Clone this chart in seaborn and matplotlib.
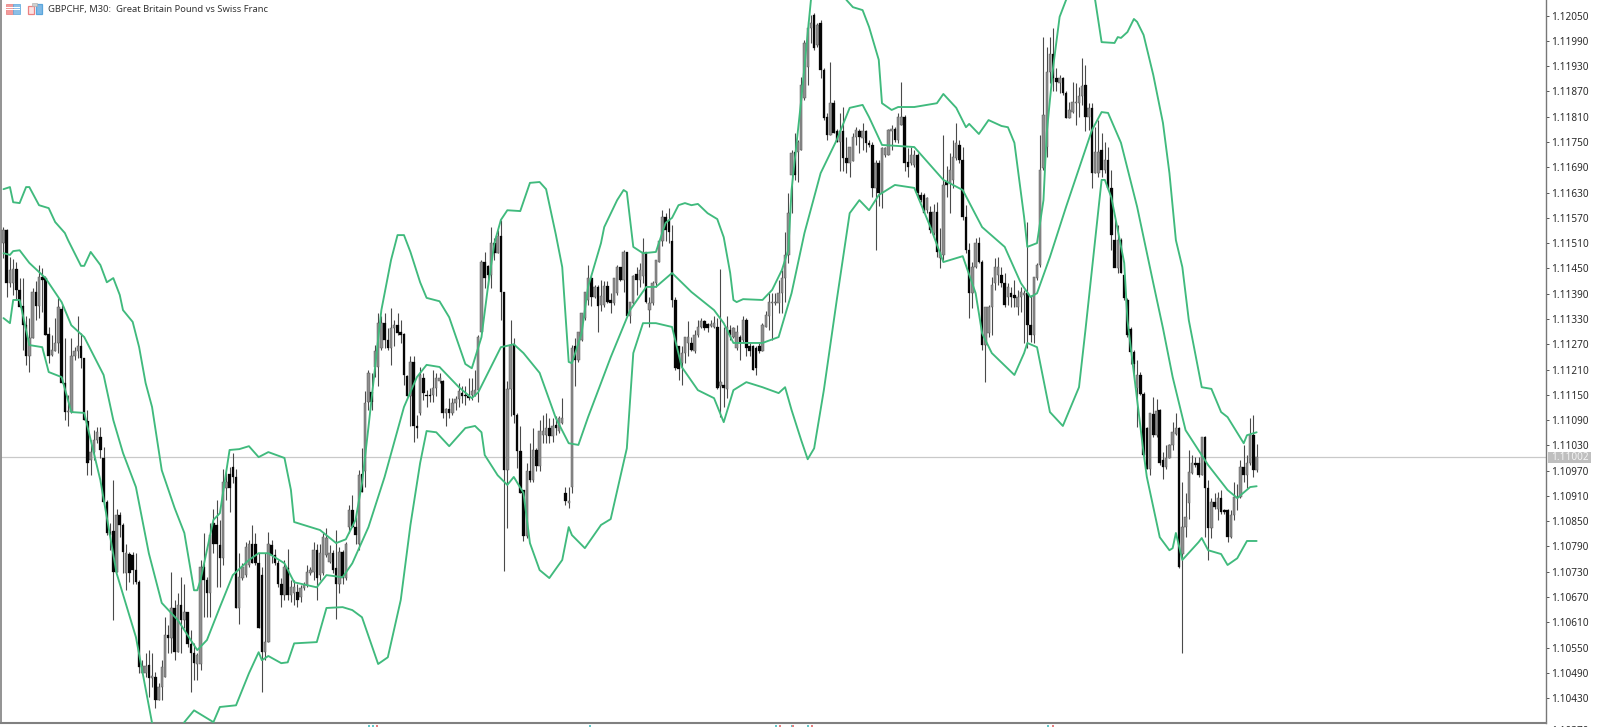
import numpy as np
import pandas as pd
import matplotlib
matplotlib.use("Agg")
import matplotlib.pyplot as plt
from matplotlib.patches import Rectangle
from matplotlib.ticker import FuncFormatter
import seaborn as sns

# Prices are given as points above 1.00000 (11090 -> 1.11090)
opens_a = [11510,11540,11415,11415,11448,11399,11361,11316,11242,11284,11393,11361,11429,11427,11294,11245,11255,11274,11353,11177,11108,11110,11242,11253,11266,11237]
highs_a = [11548,11543,11478,11472,11466,11427,11427,11336,11332,11403,11419,11458,11450,11431,11312,11292,11332,11379,11363,11284,11150,11284,11264,11336,11296,11237]
lows_a = [11474,11383,11407,11387,11375,11359,11257,11221,11205,11284,11328,11332,11347,11292,11225,11241,11253,11250,11177,11090,11075,11106,11232,11237,11213,11090]
closes_a = [11540,11415,11446,11448,11399,11359,11316,11242,11284,11393,11361,11429,11423,11292,11242,11257,11274,11358,11177,11110,11110,11242,11253,11266,11237,11090]

opens_b = [11088,10995,11015,11043,11050,10999,10896,10825,10827,10730,10865,10841,10728,10771,10770,10734,10706,10489,10489,10509,10477,10481,10426,10457,10481,10580,10572,10643,10539,10651,10615,10635,10558,10536,10511,10511,10742,10710,10679,10845,10841,10793,10762,10928,10963,10979,10956,10643,10714,10722,10746,10797,10797,10750,10722,10540,10564,10793,10770,10750,10702,10675,10738,10675,10679,10683,10671,10691,10698,10726,10730,10781,10722,10726,10770,10754,10774,10738,10702,10778,10714,10837,10876,10837,10797,10963,10968]
highs_b = [11114,11043,11066,11074,11074,11027,10900,10845,10948,10880,10872,10845,10797,10778,10778,10774,10710,10520,10536,10544,10536,10493,10465,10520,10623,10604,10730,10663,10679,10718,10702,10635,10592,10560,10536,10758,10821,10718,10845,10880,10900,10853,10975,10967,10979,11011,10975,10774,10750,10801,10805,10841,10821,10774,10742,10774,10825,10805,10785,10758,10714,10758,10785,10710,10710,10702,10698,10706,10746,10742,10801,10797,10797,10821,10833,10793,10782,10829,10789,10782,10801,10888,10912,10861,10971,11023,11158]
lows_b = [10960,10960,10995,11035,10999,10900,10817,10781,10615,10730,10813,10726,10687,10706,10702,10702,10489,10489,10481,10433,10457,10406,10426,10426,10481,10536,10536,10520,10539,10536,10596,10552,10445,10473,10473,10497,10623,10623,10623,10774,10694,10694,10746,10900,10872,10940,10643,10607,10710,10718,10742,10750,10746,10596,10445,10520,10564,10750,10746,10694,10647,10663,10663,10659,10651,10647,10659,10687,10694,10722,10710,10663,10710,10722,10766,10750,10726,10619,10679,10702,10710,10821,10837,10797,10782,10920,10932]
closes_b = [10987,11015,11043,11062,11019,10896,10821,10817,10730,10865,10841,10778,10774,10728,10734,10706,10505,10506,10506,10477,10483,10426,10457,10503,10580,10572,10643,10539,10651,10615,10635,10558,10536,10513,10532,10742,10710,10679,10817,10797,10797,10762,10944,10944,10928,10956,10643,10718,10742,10789,10797,10750,10750,10596,10540,10564,10797,10770,10750,10702,10675,10742,10675,10694,10694,10663,10691,10698,10730,10734,10781,10714,10774,10813,10809,10774,10734,10702,10778,10714,10797,10876,10837,10817,10959,10920,11130]

opens_c = [11132,11156,11217,11217,11261,11320,11281,11261,11308,11316,11298,11295,11194,11146,11229,11075,11106,11190,11150,11150,11150,11166,11182,11182,11106,11117,11106,11130,11140,11154,11150,11146,11150,11150,11162,11300,11466,11455,11435,11510,11486,11526,11395,10972,11164,11269,11103,11016,10925,10814,10968,10948,11019,10980,11055,11055,11071,11051,11079,11063,11083,10917,10893,10932,11265,11233,11281,11332,11375,11427,11383,11407]
highs_c = [11209,11201,11269,11344,11336,11344,11308,11356,11328,11344,11328,11296,11198,11241,11241,11103,11217,11201,11162,11166,11209,11201,11201,11186,11118,11142,11142,11146,11178,11170,11170,11190,11190,11209,11292,11470,11490,11458,11549,11522,11542,11565,11395,11182,11328,11284,11107,11075,10925,10988,11035,11071,11023,11091,11103,11106,11095,11095,11099,11099,11142,10932,10932,11269,11284,11300,11344,11395,11458,11435,11411,11411]
lows_c = [11114,11114,11193,11170,11257,11261,11257,11221,11265,11292,11273,11174,11146,11075,11039,11047,11103,11138,11122,11134,11134,11146,11178,11095,11075,11095,11103,11114,11122,11130,11126,11138,11138,11146,11134,11300,11403,11411,11403,11470,11486,11328,10731,10834,11099,11083,10976,10917,10802,10810,10944,10944,10968,10968,11035,11035,11035,11039,11055,11059,11081,10889,10881,10917,11170,11229,11277,11328,11364,11360,11379,11300]
closes_c = [11201,11134,11253,11320,11320,11281,11261,11308,11315,11296,11292,11196,11146,11229,11075,11071,11197,11154,11146,11146,11166,11190,11190,11106,11117,11106,11130,11140,11158,11146,11146,11142,11158,11162,11287,11466,11427,11435,11510,11486,11526,11395,10972,11164,11269,11103,11016,10917,10814,10968,10948,11019,10980,11063,11063,11071,11051,11075,11071,11095,11095,10897,10897,11261,11233,11300,11344,11395,11427,11383,11407,11360]

opens_d = [11363,11363,11408,11374,11367,11391,11453,11423,11488,11336,11367,11437,11423,11431,11488,11352,11367,11415,11466,11514,11573,11565,11514,11375,11265,11225,11249,11272,11272,11253,11292,11312,11324,11318,11314,11312,11312,11170,11174,11163,11304,11288,11261,11288,11280,11328,11265,11265,11261,11265,11253,11312,11336,11367,11367,11367,11391,11427,11482]
highs_d = [11423,11419,11419,11391,11427,11458,11453,11494,11490,11371,11435,11454,11462,11522,11490,11383,11419,11470,11518,11589,11581,11593,11553,11383,11265,11265,11288,11324,11288,11304,11328,11332,11328,11320,11328,11336,11332,11448,11312,11336,11316,11312,11316,11292,11336,11332,11272,11268,11265,11272,11320,11348,11391,11391,11391,11423,11446,11537,11628]
lows_d = [11348,11359,11367,11344,11363,11387,11419,11395,11336,11320,11363,11387,11407,11415,11367,11312,11363,11407,11466,11502,11514,11510,11359,11209,11185,11174,11225,11241,11253,11249,11288,11308,11304,11300,11312,11308,11163,11098,11122,11142,11280,11284,11257,11233,11272,11241,11241,11209,11197,11249,11253,11312,11304,11280,11363,11344,11344,11371,11462]
closes_d = [11385,11408,11371,11367,11427,11453,11423,11488,11336,11371,11433,11423,11445,11488,11371,11367,11415,11470,11514,11573,11541,11537,11375,11213,11211,11249,11288,11288,11257,11292,11312,11324,11308,11308,11318,11320,11166,11181,11166,11312,11292,11308,11298,11272,11328,11261,11255,11209,11213,11253,11316,11340,11371,11371,11371,11391,11427,11482,11581]

opens_e = [11672,11727,11727,11731,11854,11929,12020,12051,11980,12032,11921,11810,11767,11842,11775,11751,11775,11711,11699,11704,11763,11776,11759,11775,11747,11743,11640,11700,11628,11719,11719,11775,11782,11755,11790,11810,11703,11699,11695,11719,11624,11624,11589,11585,11534,11585,11474,11482,11656,11652,11660,11711,11743,11707,11573,11494,11391,11454,11510,11466,11268,11296,11359,11415,11434,11434,11415,11383,11391,11387,11359,11383,11387,11391,11316,11292,11426]
highs_e = [11731,11771,11755,11905,11992,12036,12051,12055,12032,12040,11925,11818,11941,11850,11782,11818,11834,11763,11739,11771,11786,11782,11794,11778,11755,11751,11707,11707,11739,11739,11782,11790,11786,11818,11893,11814,11735,11739,11731,11723,11632,11628,11620,11597,11604,11608,11545,11767,11692,11723,11755,11794,11755,11739,11601,11510,11466,11521,11525,11470,11359,11363,11430,11474,11478,11454,11438,11415,11407,11423,11399,11407,11399,11561,11387,11430,11462]
lows_e = [11581,11660,11656,11731,11850,11885,11984,11968,11976,11901,11802,11755,11767,11771,11751,11680,11680,11676,11668,11704,11743,11723,11731,11727,11739,11620,11494,11597,11593,11715,11719,11731,11751,11747,11790,11680,11668,11695,11691,11616,11608,11581,11581,11534,11530,11478,11450,11470,11620,11581,11640,11707,11699,11565,11486,11332,11355,11450,11462,11256,11181,11288,11292,11399,11411,11407,11359,11363,11359,11359,11340,11347,11272,11260,11276,11272,11422]
closes_e = [11723,11672,11751,11885,11984,12020,12032,11972,12028,11921,11806,11767,11842,11771,11751,11775,11711,11699,11739,11763,11779,11763,11775,11747,11743,11640,11700,11628,11735,11735,11779,11782,11755,11810,11810,11699,11691,11719,11719,11628,11612,11581,11616,11541,11585,11490,11490,11648,11648,11684,11715,11747,11707,11573,11494,11391,11454,11510,11466,11268,11359,11359,11411,11454,11454,11415,11363,11407,11383,11379,11383,11395,11392,11316,11292,11430,11458]

opens_f = [11458,11688,11739,11917,11960,11901,11891,11901,11866,11806,11822,11842,11842,11858,11885,11810,11830,11676,11676,11731,11684,11707,11640,11517,11450,11517,11434]
highs_f = [11767,12000,11976,12000,12020,11925,11909,11905,11870,11846,11893,11889,11881,11949,11933,11842,11842,11786,11802,11771,11751,11739,11684,11565,11553,11521,11438]
lows_f = [11454,11684,11715,11889,11870,11870,11866,11862,11806,11806,11818,11790,11810,11838,11775,11779,11640,11676,11668,11668,11676,11636,11494,11486,11438,11438,11375]
closes_f = [11684,11814,11917,11960,11901,11893,11901,11866,11806,11826,11846,11846,11858,11883,11810,11830,11676,11727,11727,11684,11707,11640,11529,11450,11517,11438,11379]

opens_g = [11375,11307,11252,11165,11196,11153,11070,10975,11104,11054,11113,10995,10979,10999,11030,11058,11072,10773,10837,10892,10965,10987,10987,10959,11050,10928,10833,10896,10880,10904,10876,10876,10813,10864,10908,10908,10979,10959,10987,11054,10971]
highs_g = [11380,11311,11256,11232,11204,11157,11074,11106,11145,11141,11117,11015,11030,11034,11086,11106,11074,10943,10916,11019,11007,11003,11003,11050,11052,10947,10904,10916,10920,10924,10880,10880,10876,10943,10939,10995,11030,11007,11094,11102,11034]
lows_g = [11287,11224,11196,11074,11149,11003,10975,10959,11050,11050,10983,10949,10975,10999,11019,11054,10738,10536,10813,10856,10963,10979,10955,10959,10813,10759,10809,10880,10852,10868,10868,10801,10809,10852,10876,10904,10943,10928,10983,10955,10967]
closes_g = [11291,11252,11224,11196,11153,11007,10975,11106,11054,11112,10987,10979,10999,11030,11062,11070,10742,10837,10860,10967,10987,10983,10959,11050,10928,10833,10896,10884,10904,10872,10872,10813,10864,10908,10904,10979,10959,10987,11054,10971,11002]

upper_bars = [0,2,3,5,7,8,11,14,16,19,20,24,25,27,30,32,34,36,37,40,42,44,46,49,53,56,59,60,61,65,67,70,73,76,79,82,87,89,90,98,103,106,109,111,113,117,120,122,124,126,129,131,135,138,143,145,148,150,152,154,156,160,163,166,168,171,173,175,176,179,181,185,186,190,192,193,195,198,202,205,207,209,211,213,215,218,221,223,225,226,227,229,235,238,241,243,244,247,249,250,256,261,263,266,268,271,272,275,277,282,289,291,295,298,299,302,305,309,311,313,316,317,320,322,323,325,327,329,333,338,340,344,345,346,348,350,351,353,356,359,361,363,365,367,371,374,377,379,384,385,388]
upper_vals = [11638,11643,11607,11605,11643,11643,11600,11593,11560,11534,11517,11456,11456,11489,11458,11417,11427,11387,11351,11323,11263,11178,11121,10971,10881,10822,10686,10686,10710,10853,10869,11019,11021,11028,11002,11014,11000,10924,10848,10829,10798,10807,10853,10940,11073,11351,11470,11529,11529,11489,11417,11380,11372,11334,11223,11213,11287,11406,11510,11565,11588,11586,11653,11655,11638,11531,11453,11228,11225,11296,11406,11510,11548,11612,11636,11631,11501,11486,11489,11558,11570,11600,11605,11600,11603,11581,11567,11524,11439,11375,11370,11377,11375,11399,11446,11494,11636,11850,12009,12087,12182,12087,12070,12063,12023,11945,11842,11826,11833,11833,11842,11864,11831,11785,11793,11769,11802,11788,11785,11748,11572,11501,11510,11612,11771,11928,12047,12087,12170,12087,11987,11985,11999,11997,12011,12042,12035,12004,11909,11795,11676,11517,11453,11327,11168,11164,11109,11097,11035,11054,11061]

middle_bars = [0,2,3,5,8,13,18,21,25,31,34,37,41,45,49,54,60,63,67,71,76,79,82,87,90,97,100,105,108,113,118,124,128,131,135,141,145,147,154,157,158,161,166,171,175,178,181,185,188,194,199,202,207,213,220,223,226,228,235,240,244,248,253,258,262,266,268,272,282,291,297,303,310,315,318,320,324,329,337,340,342,346,351,356,359,362,366,373,379,382,386,388]
middle_vals = [11486,11482,11491,11493,11463,11427,11370,11315,11287,11197,11090,11012,10931,10774,10656,10615,10544,10568,10646,10722,10758,10774,10774,10750,10705,10693,10722,10717,10750,10836,10955,11121,11192,11221,11216,11168,11142,11156,11263,11268,11270,11249,11202,11095,11035,11031,11097,11178,11239,11351,11406,11406,11439,11394,11351,11320,11273,11273,11273,11287,11391,11534,11676,11755,11831,11838,11809,11743,11738,11660,11636,11548,11501,11415,11382,11391,11477,11596,11778,11821,11819,11748,11596,11415,11308,11192,11066,10983,10924,10905,10931,10933]

lower_bars = [0,2,3,5,8,12,14,18,21,25,30,35,41,46,51,56,59,65,67,72,76,79,80,82,86,88,90,97,100,105,108,111,116,119,123,126,129,131,134,138,143,146,148,149,153,156,158,161,163,166,169,173,175,176,180,185,188,193,195,198,202,207,210,215,220,223,226,230,235,240,242,244,247,249,251,254,258,262,265,268,271,276,282,287,291,297,301,303,306,313,316,317,320,324,328,333,335,340,341,343,347,348,353,354,358,361,362,363,365,370,371,373,377,379,382,385,388]
lower_vals = [11332,11320,11375,11375,11268,11263,11204,11192,11109,11107,10947,10727,10575,10371,10260,10373,10401,10373,10409,10413,10489,10539,10520,10530,10513,10515,10560,10563,10644,10646,10639,10622,10511,10527,10663,10841,10988,11064,11061,11028,11071,11076,11061,11007,10959,10936,10955,10917,10798,10734,10715,10758,10836,10817,10786,10841,10855,11023,11249,11320,11320,11311,11216,11161,11142,11085,11161,11180,11168,11154,11168,11114,11042,10997,11023,11161,11375,11581,11612,11588,11624,11648,11641,11548,11465,11479,11391,11296,11249,11197,11249,11273,11263,11109,11076,11168,11304,11660,11660,11619,11463,11327,11012,10955,10812,10781,10786,10822,10758,10800,10810,10781,10772,10746,10762,10803,10803]

axis_ticks = [10430 + 60 * k for k in range(28)]
clipped_tick = 10370
last_price = 11002
chart_title = "GBPCHF, M30:  Great Britain Pound vs Swiss Franc"

W, H = 1597, 727
BLACK, UPBODY, WICK, GREEN = "#050505", "#8e8e8e", "#4a4a4a", "#40ba7d"

def price(points):
    return 1.0 + np.asarray(points, dtype=float) / 1e5

region_lengths = {name: (len(o), len(h), len(l), len(c)) for name, o, h, l, c in (
    ("a", opens_a, highs_a, lows_a, closes_a), ("b", opens_b, highs_b, lows_b, closes_b),
    ("c", opens_c, highs_c, lows_c, closes_c), ("d", opens_d, highs_d, lows_d, closes_d),
    ("e", opens_e, highs_e, lows_e, closes_e), ("f", opens_f, highs_f, lows_f, closes_f),
    ("g", opens_g, highs_g, lows_g, closes_g))}
assert all(len(set(v)) == 1 for v in region_lengths.values()), region_lengths
assert len(upper_bars) == len(upper_vals) and len(middle_bars) == len(middle_vals) and len(lower_bars) == len(lower_vals)

candles = pd.DataFrame({
    "open": price(opens_a + opens_b + opens_c + opens_d + opens_e + opens_f + opens_g),
    "high": price(highs_a + highs_b + highs_c + highs_d + highs_e + highs_f + highs_g),
    "low": price(lows_a + lows_b + lows_c + lows_d + lows_e + lows_f + lows_g),
    "close": price(closes_a + closes_b + closes_c + closes_d + closes_e + closes_f + closes_g),
})
candles["bar"] = np.arange(len(candles))

sns.set_theme(style="white")
plt.rcParams["font.family"] = ["Noto Sans", "DejaVu Sans"]

fig = plt.figure(figsize=(W / 100, H / 100), dpi=100, facecolor="white")
ax = fig.add_axes([1 / W, (H - 723) / H, (1545.7 - 1) / W, 723 / H])

ax.axhline(price(last_price), color="#c9c9c9", lw=0.9, zorder=1)

up = candles["close"] >= candles["open"]
ax.vlines(candles["bar"], candles["low"], candles["high"], color=WICK, lw=0.8, zorder=2)
ax.bar(candles.loc[up, "bar"], (candles["close"] - candles["open"])[up].clip(lower=3e-5),
       bottom=candles.loc[up, "open"], width=0.74, color=UPBODY, edgecolor="#5c5c5c", lw=0.35, zorder=3)
ax.bar(candles.loc[~up, "bar"], (candles["open"] - candles["close"])[~up].clip(lower=3e-5),
       bottom=candles.loc[~up, "close"], width=0.78, color=BLACK, edgecolor=BLACK, lw=0.2, zorder=3)

for bars, vals in ((upper_bars, upper_vals), (middle_bars, middle_vals), (lower_bars, lower_vals)):
    sns.lineplot(x=bars, y=price(vals), color=GREEN, lw=1.35, estimator=None, sort=False, ax=ax, zorder=4)

ax.set_xlim(-0.77, 477.5)
ax.set_ylim(price(10371), price(12087))
ax.set_xticks([])
ax.set_xlabel("")
ax.set_ylabel("")
ax.yaxis.tick_right()
ax.set_yticks(price(axis_ticks))
ax.yaxis.set_major_formatter(FuncFormatter(lambda v, _: f"{v:.5f}"))
ax.tick_params(axis="y", length=2.4, width=0.7, color="#555555", labelsize=7.2,
               labelcolor="#2b2b2b", pad=1.3, right=True)
ax.spines["top"].set_visible(False)
ax.spines["left"].set_color("#8a8a8a")
ax.spines["left"].set_linewidth(1.3)
ax.spines["right"].set_color("#777777")
ax.spines["right"].set_linewidth(1.0)
ax.spines["bottom"].set_color("#808080")
ax.spines["bottom"].set_linewidth(1.5)

def px_rect(x0, y0, x1, y1, **kw):
    fig.add_artist(Rectangle((x0 / W, 1 - y1 / H), (x1 - x0) / W, (y1 - y0) / H,
                             transform=fig.transFigure, **kw))

# current price label
px_rect(1548, 452, 1591, 463, facecolor="#bfbfbf", edgecolor="none", zorder=6)
fig.text(1569.5 / W, 1 - 457.7 / H, f"{price(last_price):.5f}", color="#f4f4f4",
         fontsize=7.2, ha="center", va="center", zorder=7)

# last axis label, cut by the bottom edge of the picture
fig.text(1550.7 / W, 1 - 731 / H, f"{price(clipped_tick):.5f}", color="#2b2b2b",
         fontsize=7.2, ha="left", va="center")

# header
fig.text(48 / W, 1 - 9.5 / H, chart_title, color="#333333", fontsize=6.75, ha="left", va="center")
px_rect(5.5, 4, 13, 14, facecolor="#f29a9a", edgecolor="#e87a7a", lw=0.5)
px_rect(13, 4, 20.5, 14, facecolor="#8cbfe6", edgecolor="#5aa6dc", lw=0.5)
for yy in (6.8, 9.2, 11.6):
    px_rect(6, yy, 20, yy + 0.8, facecolor="white", edgecolor="none", zorder=3)
px_rect(27.5, 6, 33.5, 14, facecolor="#fbe3e3", edgecolor="#ec8080", lw=0.9)
px_rect(36, 4, 42, 14, facecolor="#7fb9e6", edgecolor="#5aa6dc", lw=0.9)
px_rect(32, 3, 36.5, 6, facecolor="#cfcfcf", edgecolor="#aaaaaa", lw=0.4)

# time-axis separators cut by the bottom edge of the picture
for xx in (368, 372, 589, 775, 791, 807, 1047):
    px_rect(xx, 724.5, xx + 1.5, 727, facecolor="#62c8c8", edgecolor="none")
for xx in (376, 779, 792, 811, 1052):
    px_rect(xx, 725, xx + 1.5, 727, facecolor="#e57f7f", edgecolor="none")

fig.savefig("out.png", dpi=100, facecolor="white")
